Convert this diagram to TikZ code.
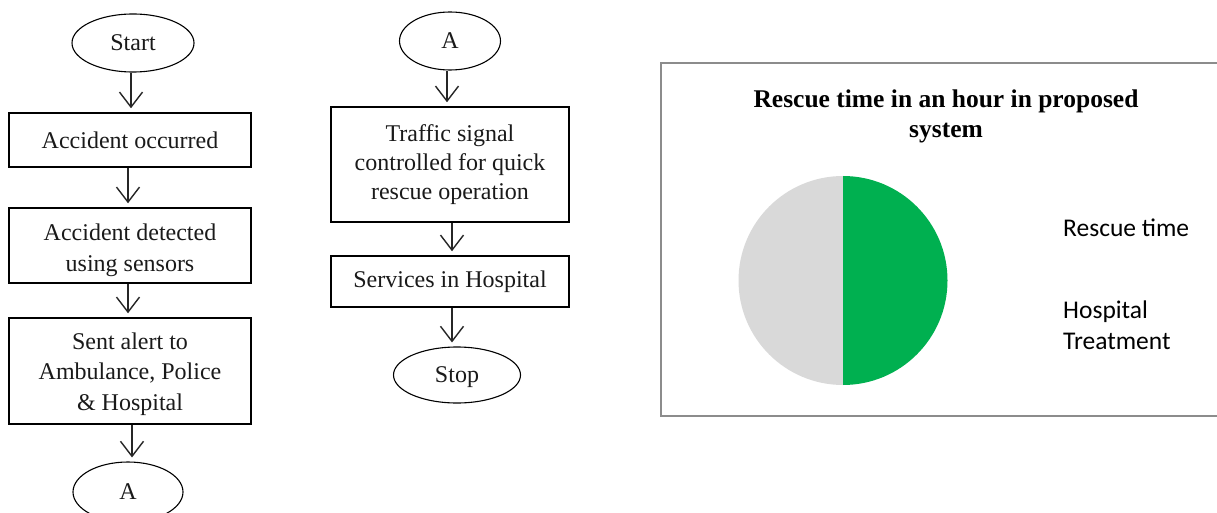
\documentclass[tikz,border=0pt]{standalone}
\usepackage{fontspec}
\setmainfont{Liberation Serif}
\newfontfamily\legendfont{Carlito}
\usetikzlibrary{shapes.geometric,arrows.meta}
\definecolor{pieGreen}{HTML}{00B050}
\definecolor{pieGray}{HTML}{D9D9D9}
\definecolor{frameGray}{HTML}{8C8C8C}
\definecolor{inkc}{HTML}{1A1A1A}
\tikzset{
  flowtext/.style={font=\fontsize{24}{30.5}\selectfont, text=inkc, align=center, inner sep=0pt},
  procbox/.style={flowtext, draw=black, line width=1.5pt, rectangle, minimum width=242pt},
  termnode/.style={flowtext, draw=black, line width=1.1pt, ellipse},
  flowarrow/.style={draw=black!85, line width=1.4pt, -{Straight Barb[length=15pt,width=23pt]}, shorten >=4pt}
}
\begin{document}
\begin{tikzpicture}[x=1pt,y=-1pt]
\useasboundingbox (0,0) rectangle (1217,513);
\clip (0,0) rectangle (1217,513);
\fill[white] (0,0) rectangle (1217,513);

% left column
\node[termnode, minimum width=122pt, minimum height=58pt] (start) at (133,43) {Start};
\node[procbox, minimum height=54pt] (b1) at (130,140) {Accident occurred};
\node[procbox, minimum height=75pt] (b2) at (130,245.5) {\rule{0pt}{26.5pt}Accident detected\\[1pt]using sensors};
\node[procbox, minimum height=106pt] (b3) at (130,371) {\rule{0pt}{22.5pt}Sent alert to\\Ambulance, Police\\\& Hospital};
\node[termnode, minimum width=110pt, minimum height=60pt] (a1) at (128,492) {A};

\draw[flowarrow] ([xshift=-2pt]start.south) -- ([xshift=-2pt]start.south |- b1.north);
\draw[flowarrow] ([xshift=-2pt]b1.south) -- ([xshift=-2pt]b2.north);
\draw[flowarrow] ([xshift=-2pt]b2.south) -- ([xshift=-2pt]b3.north);
\draw[flowarrow] ([xshift=2pt]b3.south) -- ([xshift=2pt]b3.south |- a1.north);

% middle column
\node[termnode, minimum width=101pt, minimum height=58pt] (a2) at (450,41) {A};
\node[procbox, minimum width=238pt, minimum height=115pt] (b4) at (450,164.5) {Traffic signal\\[-1.5pt]controlled for quick\\[-1.5pt]rescue operation};
\node[procbox, minimum width=238pt, minimum height=51pt] (b5) at (450,281.5) {Services in Hospital};
\node[termnode, minimum width=127pt, minimum height=56pt] (stop) at (457,375) {\rule{0pt}{20pt}Stop};

\draw[flowarrow] ([xshift=-3pt]a2.south) -- ([xshift=-3pt]a2.south |- b4.north);
\draw[flowarrow] ([xshift=2pt]b4.south) -- ([xshift=2pt]b5.north);
\draw[flowarrow] ([xshift=2pt]b5.south) -- ([xshift=2pt]b5.south |- stop.north);

% chart
\draw[frameGray, line width=2.5pt] (1230,63) -- (661,63) -- (661,416) -- (1230,416);
\node[font=\bfseries\fontsize{25.5}{29.5}\selectfont, align=center, inner sep=0pt] (title) at (946,116.5) {Rescue time in an hour in proposed\\system};
\fill[pieGray] (843,385) arc[start angle=90, end angle=270, radius=104.5] -- cycle;
\fill[pieGreen] (843,385) arc[start angle=90, end angle=-90, radius=104.5] -- cycle;
\node[font=\legendfont\fontsize{25.5}{31}\selectfont, anchor=base west, inner sep=0pt] (lg1) at (1063,236) {Rescue time};
\node[font=\legendfont\fontsize{25.5}{31}\selectfont, anchor=west, align=left, inner sep=0pt] (lg2) at (1063,325) {Hospital\\Treatment};
\end{tikzpicture}
\end{document}
